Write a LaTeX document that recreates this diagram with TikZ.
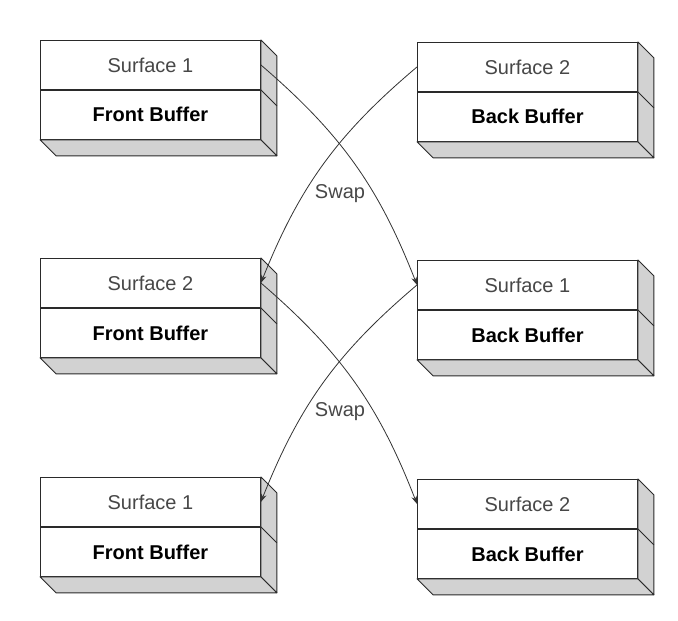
\documentclass[tikz,border=0pt]{standalone}
\usepackage{fontspec}
\setmainfont{Liberation Sans}
\usetikzlibrary{arrows.meta}
\definecolor{sidegray}{HTML}{D2D2D2}
\definecolor{edge}{HTML}{2A2A2A}
\tikzset{
  sect/.style={draw=edge, line width=0.9pt, fill=white, minimum width=220pt, minimum height=49pt,
    inner sep=0pt, font=\fontsize{20}{23}\selectfont},
  surf/.style={sect, text=black!72},
  buf/.style={sect, font=\fontsize{20}{23}\selectfont\bfseries, text=black},
  face/.style={draw=edge, line width=0.9pt, fill=sidegray, line join=round},
  conn/.style={draw=black!80, line width=0.8pt, -{Stealth[length=8pt,width=5.5pt]}},
  lbl/.style={font=\fontsize{20}{23}\selectfont, text=black!72, inner sep=1pt}
}
\newcommand{\bufbox}[5]{%
  \node[surf, anchor=north west] (#1t) at (#2) {#3};
  \node[buf, anchor=north] (#1b) at (#1t.south) {#4};
  \path[face] (#1t.north east) -- ++(16,16) -- ([shift={(16,16)}]#1b.south east) -- (#1b.south east) -- cycle;
  \path[face] (#1b.south west) -- (#1b.south east) -- ([shift={(16,16)}]#1b.south east) -- ([shift={(16,16)}]#1b.south west) -- cycle;
  \draw[draw=edge, line width=0.9pt] (#1t.south east) -- ++(16,16);
}
\begin{document}
\begin{tikzpicture}[x=1pt,y=-1pt]
\useasboundingbox (0,0) rectangle (678,621);
\bufbox{la}{40,40}{Surface 1}{Front Buffer}{}
\bufbox{ra}{417,42}{Surface 2}{Back Buffer}{}
\bufbox{lb}{40,258}{Surface 2}{Front Buffer}{}
\bufbox{rb}{417,260}{Surface 1}{Back Buffer}{}
\bufbox{lc}{40,477}{Surface 1}{Front Buffer}{}
\bufbox{rc}{417,479}{Surface 2}{Back Buffer}{}
% connectors
\draw[conn] (lat.east) to[bend left=14] (rbt.west);
\draw[conn] (rat.west) to[bend right=14] (lbt.east);
\draw[conn] (lbt.east) to[bend left=14] (rct.west);
\draw[conn] (rbt.west) to[bend right=14] (lct.east);
\node[lbl] (swa) at (340,194) {Swap};
\node[lbl] (swb) at (340,412) {Swap};
\end{tikzpicture}
\end{document}
